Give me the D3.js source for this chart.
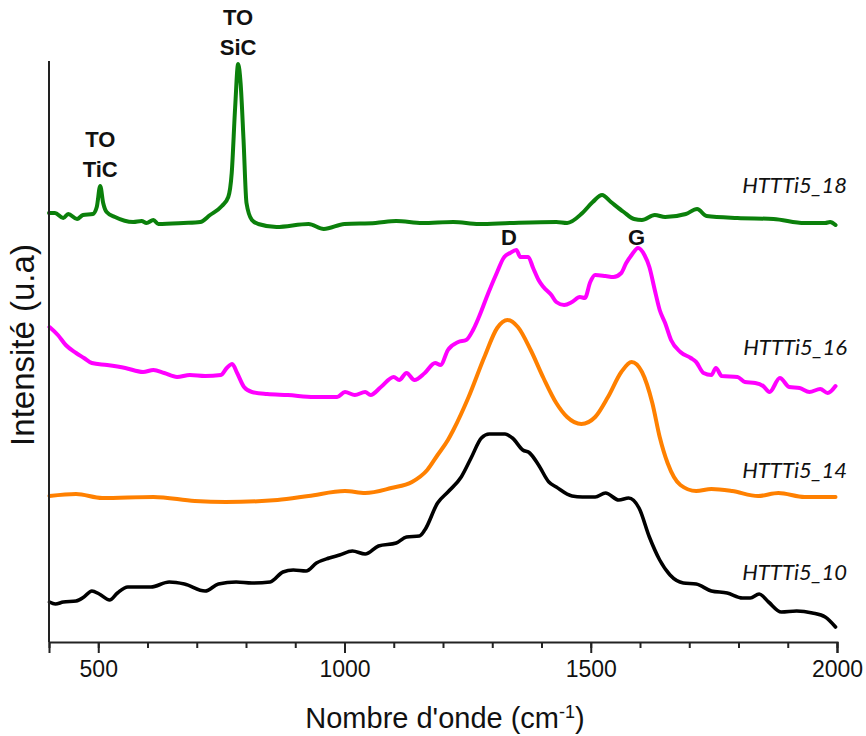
<!DOCTYPE html>
<html>
<head>
<meta charset="utf-8">
<script src="https://cdn.jsdelivr.net/npm/d3@7"></script>
<style>
  body { margin: 0; background: #fff; }
  svg { display: block; }
</style>
</head>
<body>
<div id="chart"></div>
<script>
// Raman spectra, wavenumber (cm-1) vs intensity (a.u., offset per sample)
const wn18 = [400, 412, 429, 439, 457, 469, 489, 497, 504, 510, 517, 534, 571, 588, 598, 612, 622, 673, 707, 727, 751, 764, 771, 778, 784, 789, 795, 801, 812, 825, 862, 927, 958, 1000, 1063, 1105, 1158, 1221, 1273, 1336, 1430, 1452, 1483, 1504, 1523, 1541, 1567, 1588, 1604, 1630, 1651, 1693, 1716, 1735, 1798, 1871, 1934, 1976, 1986, 1997];
const int18 = [42.9, 42.9, 42.4, 42.8, 42.3, 42.7, 42.8, 43.5, 45.6, 43.9, 43.0, 42.5, 42.0, 42.1, 41.9, 42.2, 41.8, 41.9, 42.0, 42.7, 43.6, 44.5, 46.9, 53.5, 57.8, 55.9, 50.2, 43.9, 42.2, 41.8, 41.5, 41.8, 41.3, 41.8, 41.9, 42.1, 41.9, 42.0, 41.8, 41.9, 42.0, 41.9, 42.9, 44.0, 44.7, 44.0, 43.0, 42.3, 42.2, 42.7, 42.5, 42.8, 43.3, 42.6, 42.4, 42.3, 41.9, 41.9, 42.0, 41.7];

const wn16 = [401, 418, 434, 455, 471, 487, 518, 555, 591, 612, 634, 660, 686, 717, 749, 761, 772, 782, 796, 812, 843, 885, 938, 985, 1001, 1021, 1042, 1053, 1074, 1100, 1111, 1126, 1142, 1163, 1184, 1195, 1210, 1231, 1247, 1261, 1273, 1292, 1310, 1323, 1336, 1349, 1357, 1373, 1383, 1394, 1404, 1420, 1430, 1446, 1462, 1478, 1488, 1499, 1509, 1530, 1546, 1562, 1572, 1583, 1596, 1609, 1619, 1630, 1640, 1651, 1663, 1682, 1703, 1714, 1729, 1745, 1754, 1766, 1798, 1813, 1834, 1850, 1863, 1884, 1903, 1924, 1944, 1966, 1981, 1997];
const int16 = [31.5, 30.7, 29.7, 28.9, 28.4, 27.9, 27.7, 27.4, 27.0, 27.2, 26.9, 26.5, 26.7, 26.6, 26.7, 27.4, 27.8, 26.9, 25.5, 25.0, 24.8, 24.7, 24.5, 24.5, 25.0, 24.7, 25.0, 24.7, 25.5, 26.5, 26.2, 26.9, 26.2, 26.9, 27.9, 27.7, 29.2, 30.0, 30.2, 31.2, 32.5, 34.9, 37.0, 38.4, 38.9, 39.2, 38.5, 38.5, 37.4, 36.2, 35.5, 34.7, 34.0, 33.7, 34.0, 34.5, 34.4, 36.0, 36.7, 36.6, 36.5, 36.9, 37.9, 38.7, 39.4, 38.7, 37.5, 35.2, 33.2, 31.9, 30.2, 29.0, 28.4, 28.0, 26.9, 26.7, 27.4, 26.6, 26.5, 26.0, 25.9, 25.6, 25.0, 26.4, 25.5, 25.4, 25.0, 25.3, 24.9, 25.6];

const wn14 = [401, 455, 508, 612, 696, 759, 864, 927, 1001, 1042, 1095, 1137, 1168, 1189, 1210, 1221, 1252, 1284, 1310, 1331, 1352, 1378, 1404, 1430, 1452, 1481, 1509, 1535, 1562, 1583, 1604, 1625, 1640, 1656, 1682, 1714, 1745, 1787, 1840, 1881, 1934, 1997];
const int14 = [14.6, 14.8, 14.4, 14.5, 14.1, 14.0, 14.2, 14.6, 15.1, 14.9, 15.4, 16.0, 17.2, 18.7, 20.2, 21.2, 24.5, 28.5, 31.4, 32.2, 31.5, 29.2, 26.4, 23.9, 22.5, 21.8, 22.5, 24.5, 27.0, 28.0, 27.0, 23.9, 20.5, 17.9, 15.7, 15.1, 15.3, 15.1, 14.6, 14.9, 14.5, 14.5];

const wn10 = [401, 413, 429, 455, 471, 487, 502, 523, 539, 560, 591, 607, 644, 675, 717, 744, 780, 812, 849, 875, 896, 922, 943, 969, 990, 1016, 1042, 1069, 1105, 1126, 1152, 1163, 1189, 1210, 1237, 1257, 1278, 1294, 1326, 1341, 1362, 1376, 1394, 1415, 1430, 1462, 1483, 1509, 1530, 1557, 1577, 1598, 1619, 1640, 1661, 1688, 1714, 1745, 1777, 1808, 1824, 1842, 1861, 1887, 1918, 1950, 1976, 1997];
const int10 = [4.0, 3.8, 4.0, 4.1, 4.5, 5.1, 4.8, 4.2, 4.9, 5.5, 5.5, 5.5, 6.0, 5.8, 5.1, 5.8, 6.0, 5.9, 6.0, 7.0, 7.2, 7.1, 7.9, 8.4, 8.7, 9.1, 8.8, 9.6, 9.9, 10.5, 10.6, 11.2, 13.9, 15.0, 16.5, 18.4, 20.4, 20.8, 20.8, 20.4, 19.2, 18.9, 17.7, 16.0, 15.5, 14.6, 14.5, 14.5, 14.9, 14.2, 14.4, 13.4, 10.5, 8.2, 6.7, 5.9, 5.8, 5.1, 4.9, 4.4, 4.4, 4.8, 4.0, 3.0, 3.1, 2.9, 2.5, 1.5];

const seriesNames = ["HTTTi5_18", "HTTTi5_16", "HTTTi5_14", "HTTTi5_10"];
const seriesColors = ["#0b800b", "#ff00ff", "#ff8000", "#000000"];
const seriesX = [wn18, wn16, wn14, wn10];
const seriesY = [int18, int16, int14, int10];
// label baseline in intensity units
const labelY = [44.9, 28.7, 16.4, 6.2];

const xTicks = [500, 1000, 1500, 2000];
// y = baseline of the last line
const peakLabels = [
    { lines: ["TO", "TiC"], x: 504, y: 46.5 },
    { lines: ["TO", "SiC"], x: 784, y: 58.7 },
    { lines: ["D"], x: 1334, y: 39.7 },
    { lines: ["G"], x: 1593, y: 39.7 }
];

const width = 866, height = 736;
const margin = { top: 62, right: 29, bottom: 94, left: 49 };

const svg = d3.select("#chart").append("svg")
    .attr("width", width)
    .attr("height", height);

const x = d3.scaleLinear()
    .domain([400, 2000])
    .range([margin.left, width - margin.right]);

const y = d3.scaleLinear()
    .domain([0, 58])
    .range([height - margin.bottom, margin.top]);

// curves
const line = d3.line()
    .x(d => x(d[0]))
    .y(d => y(d[1]))
    .curve(d3.curveMonotoneX);

seriesNames.forEach((name, i) => {
    const pts = seriesX[i].map((w, j) => [w, seriesY[i][j]]);
    svg.append("path")
        .datum(pts)
        .attr("fill", "none")
        .attr("stroke", seriesColors[i])
        .attr("stroke-width", i === 3 ? 3.6 : 4)
        .attr("stroke-linejoin", "round")
        .attr("stroke-linecap", "round")
        .attr("d", line);

    svg.append("text")
        .attr("x", width - 19)
        .attr("y", y(labelY[i]))
        .attr("text-anchor", "end")
        .attr("font-family", "Lato, 'Open Sans', sans-serif")
        .attr("font-style", "italic")
        .attr("font-size", 22)
        .attr("fill", "#111")
        .text(name);
});

// x axis: major every 500, minor every 100
const xAxis = svg.append("g")
    .attr("transform", "translate(0," + (height - margin.bottom) + ")");

xAxis.append("g")
    .call(d3.axisBottom(x).tickValues(d3.range(400, 2001, 100)).tickSize(6).tickFormat(""))
    .call(g => g.select(".domain").remove())
    .selectAll("line").attr("stroke", "#222").attr("stroke-width", 2);

xAxis.append("g")
    .call(d3.axisBottom(x).tickValues(xTicks).tickSize(11).tickPadding(8).tickFormat(d3.format("d")))
    .call(g => g.select(".domain").attr("stroke", "#222").attr("stroke-width", 2))
    .call(g => g.selectAll(".tick line").attr("stroke", "#222").attr("stroke-width", 2))
    .call(g => g.selectAll("text")
        .attr("font-family", "'Liberation Sans', Arial, sans-serif")
        .attr("font-size", 23)
        .attr("fill", "#111"));

// y axis, line only
svg.append("line")
    .attr("x1", margin.left).attr("x2", margin.left)
    .attr("y1", margin.top - 1).attr("y2", height - margin.bottom)
    .attr("stroke", "#222")
    .attr("stroke-width", 2);

// axis titles
const xt = svg.append("text")
    .attr("x", (margin.left + width - margin.right) / 2 + 2)
    .attr("y", 728)
    .attr("text-anchor", "middle")
    .attr("font-family", "'Liberation Sans', Arial, sans-serif")
    .attr("font-size", 29)
    .attr("fill", "#111");
xt.append("tspan").text("Nombre d'onde (cm");
xt.append("tspan").attr("baseline-shift", "super").attr("font-size", 18).text("-1");
xt.append("tspan").text(")");

svg.append("text")
    .attr("transform", "translate(34," + 345 + ") rotate(-90)")
    .attr("text-anchor", "middle")
    .attr("font-family", "'Liberation Sans', Arial, sans-serif")
    .attr("font-size", 33)
    .attr("fill", "#111")
    .text("Intensité (u.a)");

// peak annotations
peakLabels.forEach(p => {
    const t = svg.append("text")
        .attr("text-anchor", "middle")
        .attr("font-family", "'Liberation Sans', Arial, sans-serif")
        .attr("font-weight", "bold")
        .attr("font-size", 22)
        .attr("fill", "#111");
    p.lines.forEach((s, k) => {
        t.append("tspan")
            .attr("x", x(p.x))
            .attr("y", y(p.y) + (k - (p.lines.length - 1)) * 30)
            .text(s);
    });
});
</script>
</body>
</html>
